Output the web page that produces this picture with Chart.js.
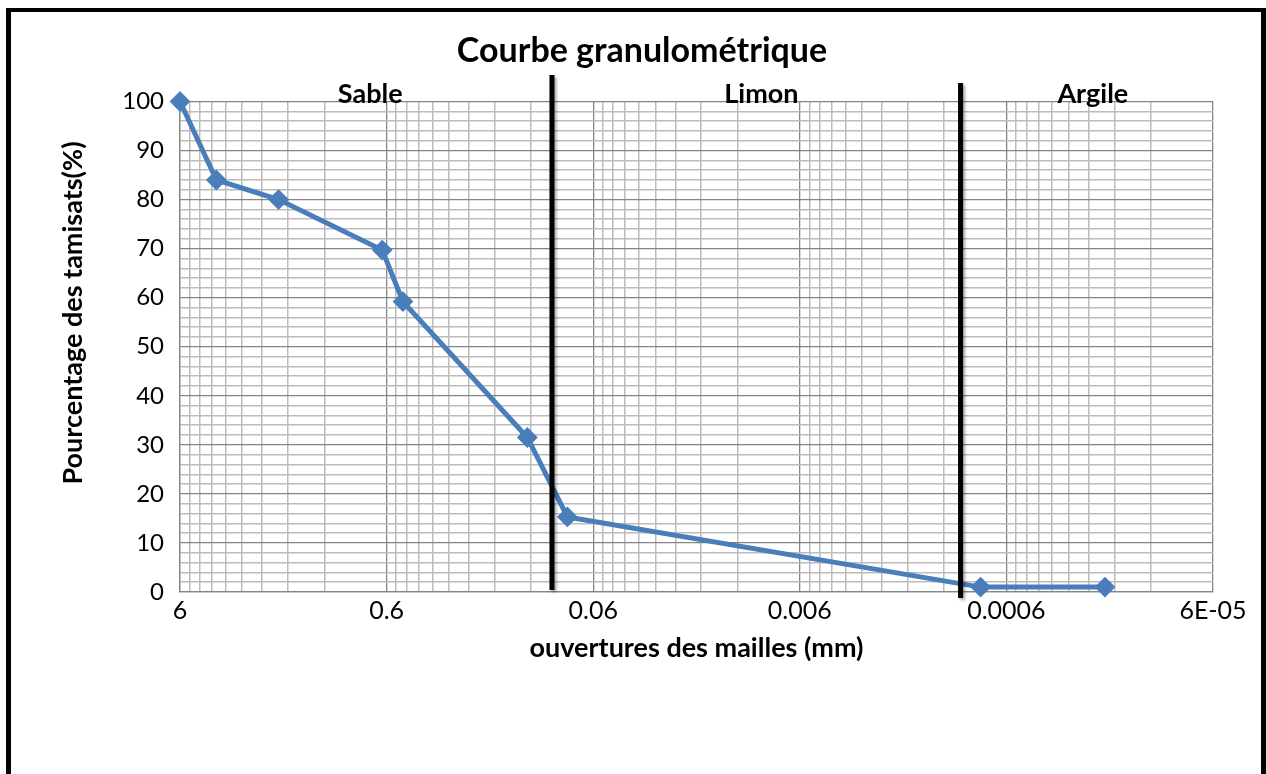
<!DOCTYPE html>
<html>
<head>
<meta charset="utf-8">
<title>Courbe granulométrique</title>
<script src="https://cdn.jsdelivr.net/npm/chart.js@4.4.1/dist/chart.umd.min.js"></script>
<style>
  html, body { margin: 0; padding: 0; background: #fff; }
  #wrap { width: 1266px; height: 774px; }
</style>
</head>
<body>
<div id="wrap"><canvas id="chart" width="1266" height="774"></canvas></div>
<script>
// Sieve openings (mm) and cumulative passing (%).
const sieveSizes = [6, 4, 2, 0.63, 0.5, 0.125, 0.08, 0.0008, 0.0002];
const passingPct = [100, 84, 80, 69.7, 59.2, 31.5, 15.3, 1, 1];

// Log axis: labelled decades and the minor multipliers inside each decade.
const xMajorTicks = [6, 0.6, 0.06, 0.006, 0.0006, 0.00006];
const xTickLabels = ['6', '0.6', '0.06', '0.006', '0.0006', '6E-05'];
const xMinorSteps = [2, 3, 4, 5, 6, 7, 8, 9];

// Soil classes and the openings separating them.
const zoneNames = ['Sable', 'Limon', 'Argile'];
const zoneBounds = [0.095, 0.001];

const FONT = 'Lato, "Open Sans", sans-serif';

// Builds the list of x ticks (majors + minors) for the log grid.
function buildXTicks() {
    const ticks = xMajorTicks.map(v => ({ value: v, major: true }));
    for (let i = 1; i < xMajorTicks.length; i++) {
        const base = xMajorTicks[i];
        xMinorSteps.forEach(k => ticks.push({ value: base * k, major: false }));
    }
    return ticks.sort((a, b) => b.value - a.value);
}

// Frame, titles, class boundaries and class names.
const decorPlugin = {
    id: 'decor',
    beforeDraw(chart) {
        const ctx = chart.ctx;
        ctx.save();
        ctx.fillStyle = '#fff';
        ctx.fillRect(0, 0, chart.width, chart.height);
        ctx.fillStyle = '#000';
        ctx.fillRect(6, 8, 5, chart.height - 8);
        ctx.fillRect(6, 8, chart.width - 6, 4);
        ctx.fillRect(chart.width - 5, 8, 5, chart.height - 8);
        ctx.restore();
    },
    afterDatasetsDraw(chart, args, opts) {
        const { ctx, scales: { x, y } } = chart;

        ctx.save();
        ctx.strokeStyle = '#000';
        ctx.lineWidth = 5;
        ctx.shadowColor = 'rgba(0,0,0,0.35)';
        ctx.shadowOffsetX = 2;
        ctx.shadowOffsetY = 2;
        ctx.shadowBlur = 3;
        zoneBounds.forEach((b, i) => {
            const px = x.getPixelForValue(b);
            const ext = opts.lineExtents[i];
            ctx.beginPath();
            ctx.moveTo(px, y.top - ext[0]);
            ctx.lineTo(px, y.bottom + ext[1]);
            ctx.stroke();
        });
        ctx.restore();

        ctx.save();
        ctx.fillStyle = '#000';
        ctx.textAlign = 'center';
        ctx.textBaseline = 'alphabetic';
        ctx.font = 'bold 27px ' + FONT;
        zoneNames.forEach((name, i) => {
            ctx.fillText(name, x.getPixelForValue(opts.labelAt[i]), y.top + 1);
        });
        ctx.font = 'bold 34px ' + FONT;
        ctx.fillText('Courbe granulométrique', 642, 62);

        // y axis title, placed a bit above the middle of the plot like the original
        ctx.font = 'bold 27px ' + FONT;
        ctx.textBaseline = 'middle';
        ctx.translate(73, 313);
        ctx.rotate(-Math.PI / 2);
        ctx.fillText('Pourcentage des tamisats(%)', 0, 0);
        ctx.restore();
    }
};

function initChart() {
    const ctx = document.getElementById('chart');
    const points = sieveSizes.map((s, i) => ({ x: s, y: passingPct[i] }));

    new Chart(ctx, {
        type: 'line',
        data: {
            datasets: [{
                label: 'Pourcentage des tamisats',
                data: points,
                borderColor: '#4a7ebb',
                backgroundColor: '#4a7ebb',
                borderWidth: 5,
                pointStyle: 'rectRot',
                pointRadius: 9,
                pointBorderWidth: 2,
                tension: 0,
                clip: false
            }]
        },
        options: {
            responsive: false,
            animation: false,
            layout: { padding: { left: 12, right: 53, top: 101.5, bottom: 100 } },
            plugins: {
                legend: { display: false },
                title: { display: false },
                tooltip: { enabled: false },
                decor: {
                    lineExtents: [[26.5, -2], [18.5, 6]],
                    labelAt: [0.72, 0.0092, 0.000229]
                }
            },
            scales: {
                x: {
                    type: 'logarithmic',
                    reverse: true,
                    min: 0.00006,
                    max: 6,
                    afterBuildTicks: scale => { scale.ticks = buildXTicks(); },
                    afterFit: scale => { scale.height = 82; },
                    ticks: {
                        autoSkip: false,
                        maxRotation: 0,
                        padding: 4,
                        color: '#000',
                        font: { family: FONT, size: 25 },
                        callback: function(value) {
                            const i = xMajorTicks.findIndex(m => Math.abs(m - value) / m < 1e-6);
                            return i >= 0 ? xTickLabels[i] : '';
                        }
                    },
                    grid: {
                        drawTicks: false,
                        color: c => (c.tick && c.tick.major) ? '#858585' : '#bcbcbc',
                        lineWidth: c => (c.tick && c.tick.major) ? 1.3 : 1.5
                    },
                    border: { display: true, color: '#858585', width: 1.3 },
                    title: {
                        display: true,
                        text: 'ouvertures des mailles (mm)',
                        color: '#000',
                        font: { family: FONT, size: 27, weight: 'bold' },
                        padding: { top: 0, bottom: 10 }
                    }
                },
                y: {
                    min: 0,
                    max: 100,
                    afterFit: scale => { scale.width = 168; },
                    ticks: {
                        stepSize: 2,
                        autoSkip: false,
                        padding: 16,
                        color: '#000',
                        font: { family: FONT, size: 24 },
                        callback: v => (v % 10 === 0 ? String(v) : '')
                    },
                    grid: {
                        drawTicks: false,
                        color: c => (c.tick && c.tick.value % 10 === 0) ? '#858585' : '#bcbcbc',
                        lineWidth: c => (c.tick && c.tick.value % 10 === 0) ? 1.3 : 1.5
                    },
                    border: { display: true, color: '#858585', width: 1.3 }
                }
            }
        },
        plugins: [decorPlugin]
    });
}

document.addEventListener('DOMContentLoaded', initChart);
</script>
</body>
</html>
